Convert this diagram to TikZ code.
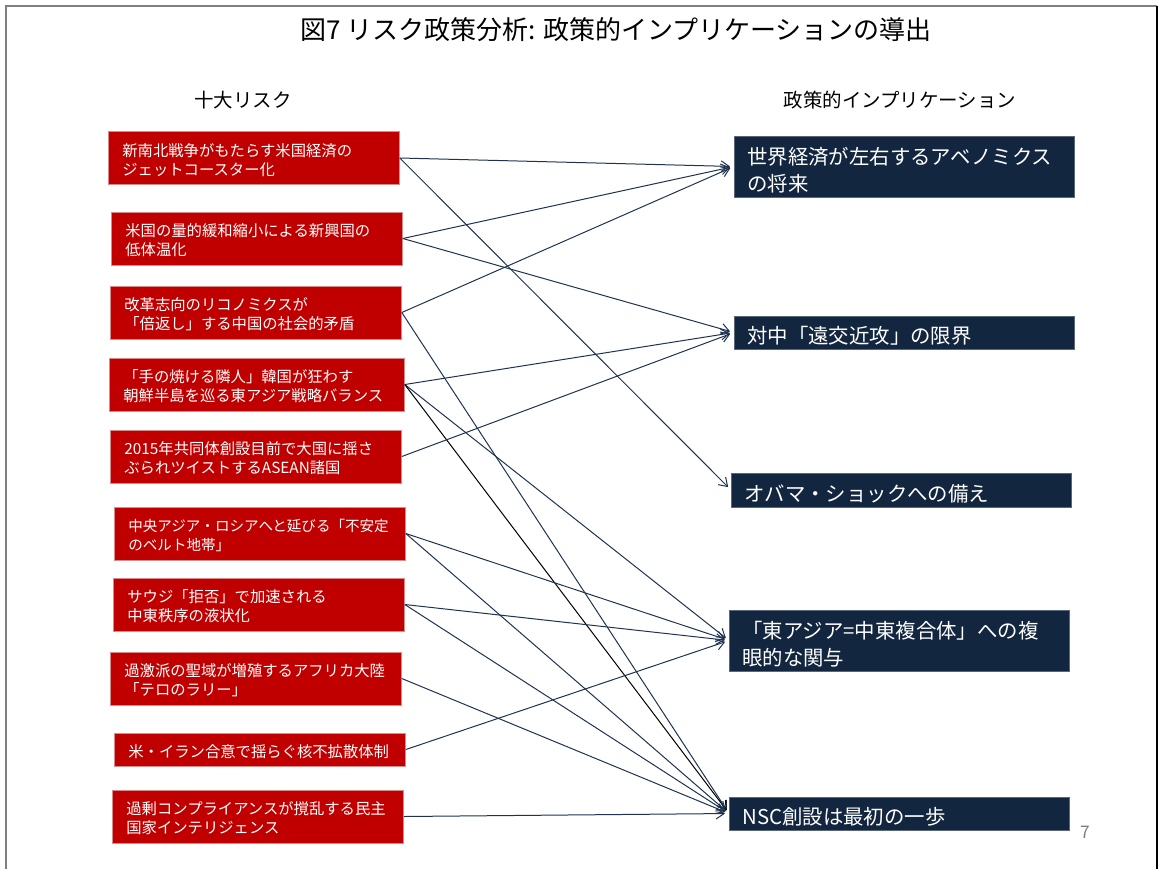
\documentclass[tikz,border=0pt]{standalone}
\usepackage{fontspec}
\setmainfont{Noto Sans CJK JP}
\usetikzlibrary{arrows.meta}
\definecolor{riskred}{HTML}{C00000}
\definecolor{riskedge}{HTML}{D98A8A}
\definecolor{navy}{HTML}{132640}
\definecolor{linecol}{HTML}{1F3350}
\definecolor{framegray}{HTML}{7F7F7F}
\begin{document}
\begin{tikzpicture}[x=0.75pt,y=-0.75pt,
  lbox/.style={rectangle, fill=riskred, draw=riskedge, line width=0.6pt, text=white,
    anchor=west, align=left, inner xsep=10.5pt, inner ysep=0pt, text width=197.25pt,
    minimum height=39.75pt, text height=12.5pt, font=\fontsize{11.5pt}{14pt}\selectfont},
  rbox/.style={rectangle, fill=navy, draw=navy!70, line width=0.5pt, text=white,
    anchor=west, align=left, inner xsep=9.75pt, inner ysep=0pt, text width=235.5pt,
    text height=18pt, font=\fontsize{15.3pt}{20pt}\selectfont},
  head/.style={font=\fontsize{14.6pt}{17pt}\selectfont, inner sep=0pt},
  link/.style={draw=linecol, line width=0.75pt, -{Straight Barb[length=6pt,width=8pt]}, shorten >=3pt},
]
\useasboundingbox (0,0) rectangle (1160,869);
\draw[framegray, line width=1.6pt] (6,869) -- (6,6) -- (1157,6);
\draw[black, line width=1.6pt] (1157,6) -- (1157,869);

\node[inner sep=0pt, font=\fontsize{19.5pt}{22pt}\selectfont] (title) at (616,30) {図7 リスク政策分析: 政策的インプリケーションの導出};
\node[head] (hl) at (243,100) {十大リスク};
\node[head] (hr) at (900,100) {政策的インプリケーション};

\node[lbox] (L1) at (108,158) {新南北戦争がもたらす米国経済の\\ジェットコースター化};
\node[lbox] (L2) at (111,238.5) {米国の量的緩和縮小による新興国の\\低体温化};
\node[lbox] (L3) at (110,312.5) {改革志向のリコノミクスが\\「倍返し」する中国の社会的矛盾};
\node[lbox, text width=200.25pt] (L4) at (109,384.5) {「手の焼ける隣人」韓国が狂わす\\朝鮮半島を巡る東アジア戦略バランス};
\node[lbox] (L5) at (110,456.5) {2015年共同体創設目前で大国に揺さ\\ぶられツイストするASEAN諸国};
\node[lbox, font=\fontsize{10.9pt}{14pt}\selectfont] (L6) at (114,533.5) {中央アジア・ロシアへと延びる「不安定\\のベルト地帯」};
\node[lbox] (L7) at (113,604.5) {サウジ「拒否」で加速される\\中東秩序の液状化};
\node[lbox] (L8) at (110,678.5) {過激派の聖域が増殖するアフリカ大陸\\「テロのラリー」};
\node[lbox, minimum height=24.75pt] (L9) at (114,749.5) {米・イラン合意で揺らぐ核不拡散体制};
\node[lbox] (L10) at (112,816.5) {過剰コンプライアンスが撹乱する民主\\国家インテリジェンス};

\node[rbox, minimum height=45.75pt] (R1) at (734,166.5) {世界経済が左右するアベノミクス\\の将来};
\node[rbox, minimum height=24.75pt] (R2) at (734,332.5) {対中「遠交近攻」の限界};
\node[rbox, minimum height=25.5pt] (R3) at (731,490) {オバマ・ショックへの備え};
\node[rbox, minimum height=45.75pt] (R4) at (729,640.5) {「東アジア=中東複合体」への複\\眼的な関与};
\node[rbox, minimum height=24.75pt] (R5) at (729,813.5) {NSC創設は最初の一歩};

\node[inner sep=0pt, text=gray, font=\fontsize{13pt}{15pt}\selectfont] (pg) at (1085,832) {7};

\draw[link] (L1.east) -- (R1.west);
\draw[link] (L1.east) -- (R3.west);
\draw[link] (L2.east) -- (R1.west);
\draw[link] (L2.east) -- (R2.west);
\draw[link] (L3.east) -- (R1.west);
\draw[link] (L3.east) -- (R5.west);
\draw[link] (L4.east) -- (R2.west);
\draw[link] (L4.east) -- (R4.west);
\draw[link, draw=black] (L4.east) -- (R5.west);
\draw[link] (L5.east) -- (R2.west);
\draw[link] (L6.east) -- (R4.west);
\draw[link] (L6.east) -- (R5.west);
\draw[link] (L7.east) -- (R4.west);
\draw[link] (L7.east) -- (R5.west);
\draw[link] (L8.east) -- (R5.west);
\draw[link] (L9.east) -- (R4.west);
\draw[link] (L10.east) -- (R5.west);
\end{tikzpicture}
\end{document}
